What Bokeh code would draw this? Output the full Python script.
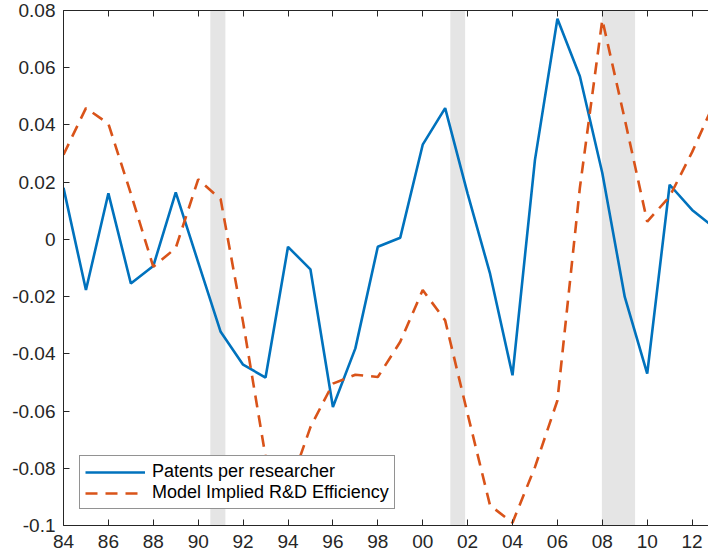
from bokeh.plotting import figure
from bokeh.models import FixedTicker, LinearAxis, Legend, LegendItem, Range1d
from bokeh.embed import file_html
from bokeh.resources import INLINE

years = list(range(1984, 2014))
patents = [0.018, -0.0177, 0.0161, -0.0154, -0.0093, 0.0164, -0.008, -0.0323, -0.0438, -0.0483,
           -0.0026, -0.0105, -0.0586, -0.0381, -0.0026, 0.0006, 0.0331, 0.0459, 0.016, -0.012,
           -0.0475, 0.0278, 0.0771, 0.057, 0.0232, -0.0201, -0.0469, 0.0191, 0.0103, 0.004]
model = [0.0296, 0.0459, 0.0404, 0.016, -0.0096, -0.003, 0.021, 0.014, -0.029, -0.076,
         -0.088, -0.0656, -0.0504, -0.0473, -0.0481, -0.0358, -0.0177, -0.0283, -0.061, -0.093,
         -0.099, -0.0796, -0.0563, 0.018, 0.0768, 0.042, 0.0062, 0.015, 0.0305, 0.048]

rec_start = [1990.54, 2001.23, 2007.98]
rec_end = [1991.21, 2001.89, 2009.46]

xticks = list(range(1984, 2013, 2))
xlabels = ["84", "86", "88", "90", "92", "94", "96", "98", "00", "02", "04", "06", "08", "10", "12"]
yticks = [-0.1, -0.08, -0.06, -0.04, -0.02, 0.0, 0.02, 0.04, 0.06, 0.08]
ylabels = ["-0.1", "-0.08", "-0.06", "-0.04", "-0.02", "0", "0.02", "0.04", "0.06", "0.08"]

x_lo, x_hi = 1984, 2012.73
y_lo, y_hi = -0.1, 0.08

FONT = "Liberation Sans"
AX = "#262626"

p = figure(width=708, height=558, output_backend="svg", toolbar_location=None,
           x_range=Range1d(x_lo, x_hi), y_range=Range1d(y_lo, y_hi),
           min_border_left=63, min_border_right=0, min_border_top=10, min_border_bottom=33,
           x_axis_location=None, y_axis_location=None)
p.outline_line_color = None
p.xgrid.visible = False
p.ygrid.visible = False
p.background_fill_color = "white"
p.border_fill_color = "white"

# recession bands
p.quad(left=rec_start, right=rec_end, bottom=[y_lo] * len(rec_start), top=[y_hi] * len(rec_start),
       fill_color="#e5e5e5", line_color=None)

r1 = p.line(years, patents, line_color="#0072BD", line_width=2.6)
r2 = p.line(years, model, line_color="#D95319", line_width=2.6, line_dash="12 8")

def style_axis(ax):
    ax.axis_line_color = AX
    ax.axis_line_width = 1
    ax.major_tick_line_color = AX
    ax.major_tick_in = 6
    ax.major_tick_out = 0
    ax.minor_tick_line_color = None
    ax.major_label_text_font = FONT
    ax.major_label_text_color = AX
    ax.major_label_text_font_size = "19px"

xb = LinearAxis(ticker=FixedTicker(ticks=xticks),
                major_label_overrides={t: l for t, l in zip(xticks, xlabels)})
style_axis(xb)
xb.major_label_standoff = 9
p.add_layout(xb, "below")

xt = LinearAxis(ticker=FixedTicker(ticks=xticks),
                major_label_overrides={t: "" for t in xticks})
style_axis(xt)
xt.major_label_standoff = 0
p.add_layout(xt, "above")

yl = LinearAxis(ticker=FixedTicker(ticks=yticks),
                major_label_overrides={t: l for t, l in zip(yticks, ylabels)})
style_axis(yl)
yl.major_label_standoff = 8
p.add_layout(yl, "left")

legend = Legend(items=[LegendItem(label="Patents per researcher", renderers=[r1]),
                       LegendItem(label="Model Implied R&D Efficiency", renderers=[r2])],
                location=(16, 16))
legend.label_text_font = FONT
legend.label_text_font_size = "18px"
legend.label_text_color = "#000000"
legend.glyph_width = 60
legend.glyph_height = 20
legend.label_height = 20
legend.label_standoff = 7
legend.padding = 5
legend.spacing = 0
legend.margin = 0
legend.border_line_color = AX
legend.border_line_width = 1
legend.background_fill_color = "white"
legend.background_fill_alpha = 1.0
p.add_layout(legend, "center")

open("out.html", "w").write(file_html(p, INLINE))
